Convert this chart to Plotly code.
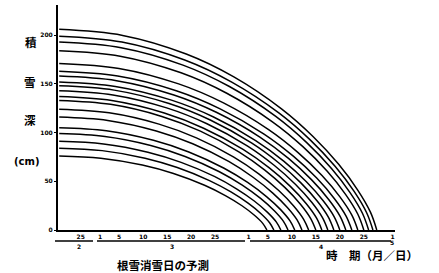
import plotly.graph_objects as go

# ---- data (days counted from 1 March; Feb 25 = -4, Apr 1 = 31, May 1 = 61) ----
x_tick_days = [-4, 0, 4, 9, 14, 19, 24, 31, 35, 40, 45, 50, 55, 61]
x_tick_text = ["25", "1", "5", "10", "15", "20", "25", "1", "5", "10", "15", "20", "25", "1"]
month_days = [-4.4, 15, 46, 60.8]
month_text = ["2", "3", "4", "5"]
y_tick_vals = [0, 50, 100, 150, 200]
y_tick_text = ["0", "50", "100", "150", "200"]

# snow-depth decline curves (day, depth cm)
snow_days = [
    [-8.5, 4.74, 17.98, 27.91, 37.84, 44.46, 49.76, 53.73, 56.38, 57.7],
    [-8.5, 4.58, 17.66, 27.47, 37.28, 43.82, 49.05, 52.98, 55.59, 56.9],
    [-8.5, 4.4, 17.3, 26.98, 36.65, 43.1, 48.26, 52.13, 54.71, 56.0],
    [-8.5, 4.2, 16.9, 26.43, 35.95, 42.3, 47.38, 51.19, 53.73, 55.0],
    [-8.5, 3.95, 16.4, 25.74, 35.08, 41.3, 46.28, 50.02, 52.51, 53.75],
    [-8.5, 3.7, 15.9, 25.05, 34.2, 40.3, 45.18, 48.84, 51.28, 52.5],
    [-8.5, 3.45, 15.4, 24.36, 33.33, 39.3, 44.08, 47.67, 50.06, 51.25],
    [-8.5, 3.2, 14.9, 23.68, 32.45, 38.3, 42.98, 46.49, 48.83, 50.0],
    [-8.5, 2.95, 14.4, 22.99, 31.58, 37.3, 41.88, 45.32, 47.61, 48.75],
    [-8.5, 2.7, 13.9, 22.3, 30.7, 36.3, 40.78, 44.14, 46.38, 47.5],
    [-8.5, 2.45, 13.4, 21.61, 29.83, 35.3, 39.68, 42.97, 45.16, 46.25],
    [-8.5, 2.2, 12.9, 20.93, 28.95, 34.3, 38.58, 41.79, 43.93, 45.0],
    [-8.5, 1.9, 12.3, 20.1, 27.9, 33.1, 37.26, 40.38, 42.46, 43.5],
    [-8.5, 1.62, 11.74, 19.33, 26.92, 31.98, 36.03, 39.06, 41.09, 42.1],
    [-8.5, 1.32, 11.14, 18.51, 25.87, 30.78, 34.71, 37.65, 39.62, 40.6],
    [-8.5, 1.04, 10.58, 17.74, 24.89, 29.66, 33.48, 36.34, 38.25, 39.2],
    [-8.5, 0.74, 9.98, 16.91, 23.84, 28.46, 32.16, 34.93, 36.78, 37.7],
    [-8.5, 0.45, 9.4, 16.11, 22.83, 27.3, 30.88, 33.57, 35.36, 36.25],
    [-8.5, 0.16, 8.82, 15.32, 21.81, 26.14, 29.6, 32.2, 33.93, 34.8],
]
snow_depth = [
    [206, 199.8, 180.7, 157.2, 124.4, 95.8, 67.4, 41.0, 18.3, 0],
    [199, 193.0, 174.5, 151.8, 120.2, 92.5, 65.1, 39.6, 17.7, 0],
    [193, 187.2, 169.3, 147.3, 116.6, 89.7, 63.1, 38.4, 17.2, 0],
    [184, 178.5, 161.4, 140.4, 111.1, 85.6, 60.2, 36.6, 16.4, 0],
    [171, 165.9, 150.0, 130.5, 103.3, 79.5, 55.9, 34.0, 15.2, 0],
    [163, 158.1, 143.0, 124.4, 98.5, 75.8, 53.3, 32.4, 14.5, 0],
    [158, 153.3, 138.6, 120.6, 95.4, 73.5, 51.7, 31.4, 14.1, 0],
    [152, 147.4, 133.3, 116.0, 91.8, 70.7, 49.7, 30.2, 13.5, 0],
    [148, 143.6, 129.8, 112.9, 89.4, 68.8, 48.4, 29.5, 13.2, 0],
    [143, 138.7, 125.4, 109.1, 86.4, 66.5, 46.8, 28.5, 12.7, 0],
    [137, 132.9, 120.1, 104.5, 82.7, 63.7, 44.8, 27.3, 12.2, 0],
    [133, 129.0, 116.6, 101.5, 80.3, 61.8, 43.5, 26.5, 11.8, 0],
    [124, 120.3, 108.7, 94.6, 74.9, 57.7, 40.5, 24.7, 11.0, 0],
    [116, 112.5, 101.7, 88.5, 70.1, 53.9, 37.9, 23.1, 10.3, 0],
    [105, 101.9, 92.1, 80.1, 63.4, 48.8, 34.3, 20.9, 9.3, 0],
    [99, 96.0, 86.8, 75.5, 59.8, 46.0, 32.4, 19.7, 8.8, 0],
    [91, 88.3, 79.8, 69.4, 55.0, 42.3, 29.8, 18.1, 8.1, 0],
    [84, 81.5, 73.7, 64.1, 50.7, 39.1, 27.5, 16.7, 7.5, 0],
    [76, 73.7, 66.7, 58.0, 45.9, 35.3, 24.9, 15.1, 6.8, 0],
]

# ---- layout geometry (pixels) ----
W, H = 439, 273
L, R, T, B = 58, 44, 5, 43
PW, PH = W - L - R, H - T - B


def px(X):
    return (X - L) / PW


def py(Y):
    return (H - B - Y) / PH


fig = go.Figure()
for d, v in zip(snow_days, snow_depth):
    fig.add_trace(go.Scatter(x=d, y=v, mode="lines",
                             line=dict(color="black", width=1.5, shape="spline", smoothing=1.0),
                             showlegend=False, hoverinfo="skip"))

tick_font = dict(family="DejaVu Sans", size=6, color="black", weight="bold")
cjk = "Noto Sans CJK JP"

fig.update_xaxes(range=[-8.75, 61.5], tickvals=x_tick_days, ticktext=x_tick_text,
                 showline=True, linecolor="black", linewidth=2, showgrid=False,
                 zeroline=False, ticks="", tickfont=tick_font)
fig.update_yaxes(range=[0, 231], tickvals=y_tick_vals, ticktext=y_tick_text,
                 showline=True, linecolor="black", linewidth=2, showgrid=False,
                 zeroline=False, ticks="outside", ticklen=2, tickcolor="black",
                 tickfont=tick_font)

annotations = []
for d, t in zip(month_days, month_text):
    yy = 242.5 if t == "5" else 246
    annotations.append(dict(x=d, xref="x", y=py(yy), yref="paper", text=t, showarrow=False,
                            font=tick_font, xanchor="center", yanchor="middle",
                            borderpad=0))

big = dict(family=cjk, size=11.5, color="black", weight="bold")
for ch, X, Y in [("積", 30.5, 42), ("雪", 30, 82), ("深", 30, 120)]:
    annotations.append(dict(x=px(X), y=py(Y), xref="paper", yref="paper", text=ch,
                            showarrow=False, font=big, xanchor="center", yanchor="middle"))
annotations.append(dict(x=px(27), y=py(161), xref="paper", yref="paper", text="(cm)",
                        showarrow=False, font=dict(family="DejaVu Sans", size=10, color="black", weight="bold"),
                        xanchor="center", yanchor="middle"))
annotations.append(dict(x=px(163), y=py(264.5), xref="paper", yref="paper", text="根雪消雪日の予測",
                        showarrow=False, font=big, xanchor="center", yanchor="middle"))
annotations.append(dict(x=px(325), y=py(246.5), xref="paper", yref="paper", text="時　期（月／日）",
                        showarrow=False, font=big, xanchor="left", yanchor="top", borderpad=0))

shapes = []
for X0, X1 in [(55, 93), (97, 245), (250, 391)]:
    shapes.append(dict(type="line", xref="paper", yref="paper", x0=px(X0), x1=px(X1),
                       y0=py(241), y1=py(241), line=dict(color="black", width=1.3)))

fig.update_layout(width=W, height=H, margin=dict(l=L, r=R, t=T, b=B),
                  paper_bgcolor="white", plot_bgcolor="white",
                  annotations=annotations, shapes=shapes)

fig.write_html("out.html")
